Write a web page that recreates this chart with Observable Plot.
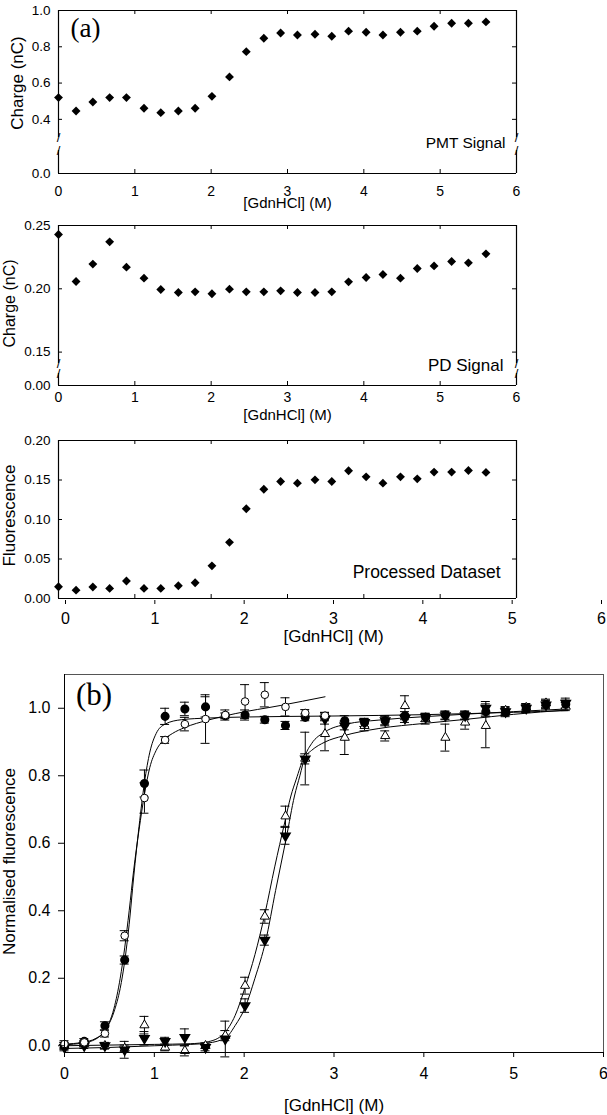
<!DOCTYPE html>
<html><head><meta charset="utf-8">
<script src="https://cdn.jsdelivr.net/npm/d3@7"></script>
<script src="https://cdn.jsdelivr.net/npm/@observablehq/plot@0.6"></script>
<style>
body{margin:0;background:#fff;}
#fig{position:relative;width:607px;height:1115px;background:#fff;overflow:hidden;}
</style></head><body><div id="fig"></div>
<script>
// ---------- Panel (a) data ----------
const concA = [0,0.23,0.45,0.67,0.89,1.12,1.34,1.57,1.79,2.01,2.24,2.46,2.69,2.91,3.13,3.36,3.58,3.8,4.03,4.25,4.48,4.7,4.92,5.15,5.37,5.6];
const pmtCharge = [0.52,0.446,0.496,0.52,0.52,0.461,0.437,0.446,0.461,0.527,0.634,0.773,0.847,0.876,0.865,0.869,0.858,0.886,0.880,0.865,0.880,0.886,0.913,0.930,0.930,0.937];
const pdCharge = [0.2429,0.2058,0.2195,0.2371,0.2171,0.2084,0.1995,0.1971,0.1976,0.1961,0.1997,0.1976,0.1976,0.1984,0.1971,0.1971,0.1976,0.2055,0.2089,0.2113,0.2084,0.216,0.2181,0.2216,0.2205,0.2276];
const processed = [0.0149,0.0106,0.0145,0.0128,0.0221,0.0128,0.0128,0.0162,0.02,0.0413,0.0711,0.1136,0.1383,0.1481,0.146,0.1502,0.1481,0.1617,0.154,0.146,0.154,0.1515,0.16,0.16,0.1621,0.1596];

const xTickLabels = [0,1,2,3,4,5,6];
const pmtYTicks = [0,0.4,0.6,0.8,1.0];
const pdYTicks = [0,0.15,0.20,0.25];
const procYTicks = [0,0.05,0.10,0.15,0.20];
// broken-axis scale domains: [bottom, break low, break high, top]
const pmtYDomain = [0,0.1,0.3,1.0];
const pdYDomain = [0,0.02,0.141,0.25];

// ---------- Panel (b) data ----------
const concB = [0,0.22,0.45,0.67,0.89,1.12,1.34,1.57,1.79,2.01,2.23,2.46,2.68,2.9,3.12,3.34,3.57,3.79,4.02,4.24,4.46,4.69,4.91,5.14,5.36,5.58];
const filledCircle = [0.0,0.013,0.059,0.254,0.777,0.976,0.998,1.004,0.978,0.98,0.966,0.949,0.973,0.975,0.963,0.958,0.963,0.978,0.973,0.98,0.98,0.99,0.987,1.0,1.012,1.012];
const filledCircleErr = [0.01,0.008,0.012,0.012,0.04,0.024,0.02,0.03,0.008,0.015,0.01,0.012,0.01,0.012,0.015,0.012,0.015,0.012,0.012,0.012,0.012,0.015,0.012,0.012,0.012,0.012];
const openCircle = [0.005,0.01,0.036,0.326,0.734,0.906,0.953,0.968,0.98,1.02,1.04,1.004,0.986,0.978];
const openCircleErr = [0.01,0.005,0.01,0.015,0.045,0.01,0.02,0.072,0.015,0.05,0.036,0.027,0.01,0.01];
const filledTri = [-0.005,0.0,0.0,-0.012,0.022,0.013,0.025,-0.005,0.02,0.119,0.313,0.622,0.85,0.968,0.948,0.958,0.963,0.97,0.973,0.978,0.978,1.0,0.99,1.0,1.01,1.015];
const filledTriErr = [0.01,0.008,0.008,0.025,0.02,0.012,0.025,0.01,0.053,0.02,0.015,0.025,0.015,0.015,0.012,0.012,0.012,0.012,0.012,0.012,0.012,0.02,0.012,0.012,0.012,0.015];
const openTri = [0.0,0.005,0.0,-0.008,0.061,-0.005,-0.015,0.0,0.03,0.178,0.383,0.68,0.851,0.924,0.913,0.948,0.918,1.007,0.968,0.913,0.958,0.948,0.993,1.002,1.015,1.005];
const openTriErr = [0.01,0.008,0.01,0.01,0.026,0.01,0.015,0.008,0.015,0.025,0.02,0.03,0.078,0.05,0.05,0.015,0.015,0.03,0.015,0.04,0.02,0.065,0.012,0.012,0.012,0.012];

// fitted curves
const fitFilledCircleX = [0,0.2,0.35,0.45,0.55,0.62,0.67,0.72,0.77,0.83,0.89,0.95,1.02,1.12,1.3,1.6,2,3,4,5,5.6];
const fitFilledCircleY = [0.003,0.008,0.02,0.045,0.1,0.17,0.25,0.36,0.5,0.65,0.78,0.87,0.925,0.953,0.966,0.971,0.974,0.977,0.981,0.988,0.993];
const fitOpenCircleX = [0,0.2,0.35,0.45,0.55,0.62,0.67,0.72,0.77,0.83,0.89,0.95,1.02,1.1,1.2,1.34,1.6,1.9,2.4,2.9];
const fitOpenCircleY = [0.005,0.01,0.022,0.045,0.11,0.2,0.29,0.4,0.52,0.64,0.745,0.825,0.875,0.905,0.925,0.943,0.965,0.984,1.008,1.034];
const fitFilledTriX = [0,0.5,1.0,1.4,1.6,1.8,1.9,2.01,2.12,2.24,2.35,2.47,2.56,2.62,2.68,2.75,2.9,3.14,3.5,4,4.5,5,5.6];
const fitFilledTriY = [-0.008,-0.005,0.0,0.004,0.008,0.025,0.06,0.113,0.2,0.311,0.46,0.617,0.74,0.8,0.86,0.895,0.93,0.953,0.965,0.975,0.983,0.99,0.998];
const fitOpenTriX = [0,0.5,1.0,1.4,1.6,1.77,1.9,2.01,2.12,2.23,2.34,2.45,2.52,2.58,2.66,2.75,2.9,3.1,3.5,4,4.5,5,5.6];
const fitOpenTriY = [0.0,0.002,0.004,0.006,0.012,0.035,0.09,0.173,0.27,0.39,0.53,0.66,0.74,0.79,0.85,0.875,0.9,0.918,0.94,0.955,0.968,0.982,0.995];
const bYTicks = [0,0.2,0.4,0.6,0.8,1.0];

// ---------- helpers ----------
const fig = document.getElementById("fig");
function place(el, top) {
  el.style.position = "absolute";
  el.style.top = top + "px";
  el.style.left = "0px";
  fig.appendChild(el);
}
const SANS = "'Liberation Sans', Arial, sans-serif";
const SERIF = "'Liberation Serif', 'Times New Roman', serif";
const inner = [1,2,3,4,5];
const T = {textAnchor: "middle", lineAnchor: "middle"};

function panelA(o) {
  const W = 607, left = 58, right = 516;
  const frameW = right - left;
  const frameH = o.height - o.mTop - o.mBottom;
  const rows = concA.map((x, i) => ({x, y: o.values[i]}));
  const yTop = o.yDomain[o.yDomain.length - 1];
  const segs = o.broken
    ? [{x:0,y1:o.yDomain[0],y2:o.yDomain[1]},{x:0,y1:o.yDomain[2],y2:yTop},
       {x:6,y1:o.yDomain[0],y2:o.yDomain[1]},{x:6,y1:o.yDomain[2],y2:yTop}]
    : [{x:0,y1:o.yDomain[0],y2:yTop},{x:6,y1:o.yDomain[0],y2:yTop}];
  const breakMarks = o.broken
    ? [{x:0,y:o.yDomain[1]},{x:0,y:o.yDomain[2]},{x:6,y:o.yDomain[1]},{x:6,y:o.yDomain[2]}]
    : [];
  const yIn = o.yTicks.filter(v => v > o.yDomain[0] && v < yTop);
  const marks = [
    Plot.ruleY([o.yDomain[0], yTop], {stroke: "#000", strokeWidth: 1.2}),
    Plot.ruleX(segs, {x: "x", y1: "y1", y2: "y2", stroke: "#000", strokeWidth: 1.2}),
    Plot.text(breakMarks, {x: "x", y: "y", text: () => "/", fontSize: 13, fontFamily: SANS, fill: "#000", ...T}),
    Plot.tickX(inner, {x: d => d, insetTop: frameH - 4, stroke: "#000"}),
    Plot.tickX(inner, {x: d => d, insetBottom: frameH - 4, stroke: "#000"}),
    Plot.tickY(yIn, {y: d => d, insetRight: frameW - 4, stroke: "#000"}),
    Plot.tickY(yIn, {y: d => d, insetLeft: frameW - 4, stroke: "#000"}),
    Plot.axisY({ticks: o.yTicks, tickSize: 0, tickPadding: 8, tickFormat: d3.format(o.fmt), label: null}),
    Plot.dot(rows, {x: "x", y: "y", symbol: "diamond2", r: 4, fill: "#000", stroke: "none"}),
    Plot.text([o.ylabel], {text: d => d, frameAnchor: "left", dx: o.ylDx, dy: o.ylDy, rotate: -90, fontSize: o.ylSize, fontFamily: SANS, ...T}),
    Plot.text([o.note], {text: d => d, frameAnchor: "bottom-right", textAnchor: "end", lineAnchor: "middle", dx: o.noteDx, dy: o.noteDy, fontSize: o.noteSize, fontFamily: SANS})
  ];
  if (o.showX) {
    marks.push(Plot.axisX({ticks: xTickLabels, tickSize: 0, tickPadding: o.xPad, tickFormat: d3.format("d"), label: null, fontSize: 14}));
    marks.push(Plot.text(["[GdnHCl] (M)"], {text: d => d, frameAnchor: "bottom", dy: o.xlDy, fontSize: 15, fontFamily: SANS, ...T}));
  }
  if (o.tag) marks.push(Plot.text([o.tag], {text: d => d, frameAnchor: "top-left", dx: 27, dy: 18, fontSize: 27, fontFamily: SERIF, ...T}));
  return Plot.plot({
    width: W, height: o.height,
    marginLeft: left, marginRight: W - right, marginTop: o.mTop, marginBottom: o.mBottom,
    style: {fontFamily: SANS, fontSize: "13.5px", color: "#000", background: "transparent"},
    x: {domain: [0, 6], axis: o.showX ? undefined : null},
    y: o.yRange ? {type: "linear", domain: o.yDomain, range: o.yRange} : {type: "linear", domain: o.yDomain},
    marks
  });
}

// Panel a-1: PMT
place(panelA({
  height: 215, mTop: 10, mBottom: 42, values: pmtCharge,
  yDomain: pmtYDomain, yRange: [173,150,137,10], broken: true,
  yTicks: pmtYTicks, fmt: ".1f",
  ylabel: "Charge (nC)", ylDx: -41, ylDy: -9, ylSize: 17,
  note: "PMT Signal", noteDx: -11, noteDy: -30, noteSize: 15.5,
  showX: true, xPad: 13, xlDy: 30, tag: "(a)"
}), 0);

// Panel a-2: PD
place(panelA({
  height: 215, mTop: 10, mBottom: 45, values: pdCharge,
  yDomain: pdYDomain, yRange: [170,158,148,10], broken: true,
  yTicks: pdYTicks, fmt: ".2f",
  ylabel: "Charge (nC)", ylDx: -49, ylDy: -2, ylSize: 16,
  note: "PD Signal", noteDx: -13, noteDy: -20, noteSize: 17,
  showX: true, xPad: 7, xlDy: 30
}), 215);

// Panel a-3: processed
place(panelA({
  height: 175, mTop: 10, mBottom: 7, values: processed,
  yDomain: [0, 0.2], broken: false,
  yTicks: procYTicks, fmt: ".2f",
  ylabel: "Fluorescence", ylDx: -49, ylDy: -4, ylSize: 17,
  note: "Processed Dataset", noteDx: -16, noteDy: -26, noteSize: 17.5,
  showX: false
}), 430);

// axis strip under panel a-3
place(Plot.plot({
  width: 607, height: 52, marginTop: 3, marginBottom: 48, marginLeft: 65, marginRight: 6,
  style: {fontFamily: SANS, fontSize: "16px", color: "#000", background: "transparent"},
  x: {domain: [0, 6]},
  marks: [
    Plot.axisX({ticks: xTickLabels, tickSize: 4, tickPadding: 8, tickFormat: d3.format("d"), label: null}),
    Plot.text(["[GdnHCl] (M)"], {text: d => d, frameAnchor: "bottom", dy: 36, fontSize: 17, fontFamily: SANS, ...T})
  ]
}), 596);

// ---------- Panel (b) ----------
const rowsFC = concB.map((x, i) => ({x, y: filledCircle[i], e: filledCircleErr[i]}));
const rowsOC = openCircle.map((y, i) => ({x: concB[i], y, e: openCircleErr[i]}));
const rowsFT = concB.map((x, i) => ({x, y: filledTri[i], e: filledTriErr[i]}));
const rowsOT = concB.map((x, i) => ({x, y: openTri[i], e: openTriErr[i]}));
const fits = [
  fitFilledCircleX.map((x, i) => ({x, y: fitFilledCircleY[i]})),
  fitOpenCircleX.map((x, i) => ({x, y: fitOpenCircleY[i]})),
  fitFilledTriX.map((x, i) => ({x, y: fitFilledTriY[i]})),
  fitOpenTriX.map((x, i) => ({x, y: fitOpenTriY[i]}))
];
const cap = 0.05;
function errMarks(rows) {
  return [
    Plot.ruleX(rows, {x: "x", y1: d => d.y - d.e, y2: d => d.y + d.e, stroke: "#000", strokeWidth: 1}),
    Plot.ruleY(rows, {y: d => d.y + d.e, x1: d => d.x - cap, x2: d => d.x + cap, stroke: "#000", strokeWidth: 1}),
    Plot.ruleY(rows, {y: d => d.y - d.e, x1: d => d.x - cap, x2: d => d.x + cap, stroke: "#000", strokeWidth: 1})
  ];
}
place(Plot.plot({
  width: 607, height: 455, marginTop: 14, marginBottom: 63, marginLeft: 64, marginRight: 4,
  style: {fontFamily: SANS, fontSize: "16px", color: "#000", background: "transparent"},
  x: {domain: [0, 6]},
  y: {domain: [-0.02, 1.1]},
  marks: [
    Plot.ruleY([1.1], {stroke: "#555"}),
    Plot.ruleX([6], {stroke: "#555"}),
    ...fits.map(f => Plot.line(f, {x: "x", y: "y", curve: "monotone-x", stroke: "#000", strokeWidth: 1})),
    ...errMarks(rowsOT), ...errMarks(rowsFT), ...errMarks(rowsOC), ...errMarks(rowsFC),
    Plot.dot(rowsOT, {x: "x", y: "y", symbol: "triangle", r: 3.4, fill: "#fff", stroke: "#000", strokeWidth: 1}),
    Plot.dot(rowsFT, {x: "x", y: "y", symbol: "triangle", r: 3.4, rotate: 180, fill: "#000", stroke: "#000"}),
    Plot.dot(rowsFC, {x: "x", y: "y", symbol: "circle", r: 3.8, fill: "#000", stroke: "#000"}),
    Plot.dot(rowsOC, {x: "x", y: "y", symbol: "circle", r: 3.8, fill: "#fff", stroke: "#000", strokeWidth: 1}),
    Plot.ruleX([0], {stroke: "#000"}),
    Plot.ruleY([-0.02], {stroke: "#000"}),
    Plot.axisY({ticks: bYTicks, tickSize: 6, tickPadding: 8, tickFormat: d3.format(".1f"), label: null}),
    Plot.axisX({ticks: xTickLabels, tickSize: 5, tickPadding: 10, tickFormat: d3.format("d"), label: null}),
    Plot.text(["Normalised fluorescence"], {text: d => d, frameAnchor: "left", dx: -55, dy: -2, rotate: -90, fontSize: 17, fontFamily: SANS, ...T}),
    Plot.text(["[GdnHCl] (M)"], {text: d => d, frameAnchor: "bottom", dy: 53, fontSize: 17, fontFamily: SANS, ...T}),
    Plot.text(["(b)"], {text: d => d, frameAnchor: "top-left", dx: 29.5, dy: 21, fontSize: 31, fontFamily: SERIF, ...T})
  ]
}), 660);
</script>
</body></html>
